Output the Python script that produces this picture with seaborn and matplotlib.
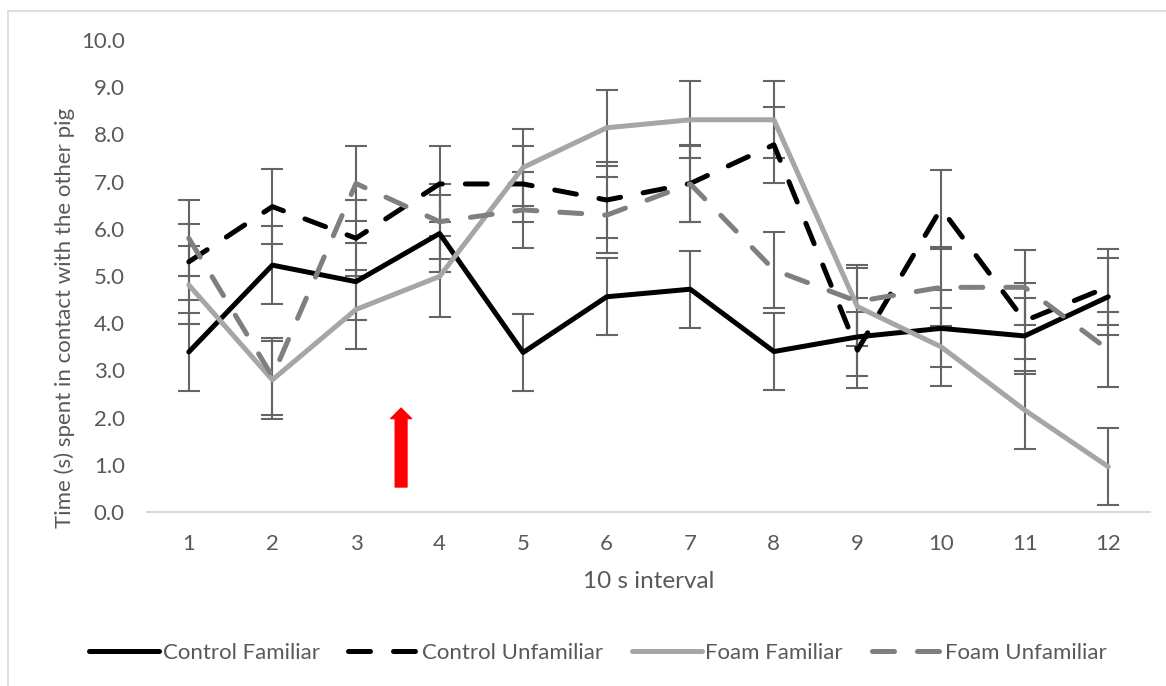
import numpy as np
import pandas as pd
import matplotlib
matplotlib.use('Agg')
import matplotlib.pyplot as plt
from matplotlib.lines import Line2D
import seaborn as sns

# ---- data ----
intervals = list(range(1, 13))
groups = ["Control Familiar", "Control Unfamiliar", "Foam Familiar", "Foam Unfamiliar"]

control_familiar = [3.39, 5.23, 4.88, 5.90, 3.38, 4.56, 4.72, 3.40, 3.71, 3.89, 3.73, 4.56]
control_unfamiliar = [5.30, 6.47, 5.80, 6.95, 6.95, 6.61, 6.96, 7.78, 3.43, 6.43, 4.05, 4.77]
foam_familiar = [4.81, 2.80, 4.29, 4.99, 7.30, 8.14, 8.31, 8.31, 4.35, 3.50, 2.16, 0.96]
foam_unfamiliar = [5.80, 2.87, 6.96, 6.15, 6.40, 6.29, 6.95, 5.13, 4.46, 4.76, 4.76, 3.44]

err_control_familiar = [0.82, 0.82, 0.82, 0.82, 0.81, 0.82, 0.82, 0.81, 0.82, 0.81, 0.80, 0.82]
err_control_unfamiliar = [0.81, 0.80, 0.80, 0.81, 0.81, 0.81, 0.81, 0.81, 0.81, 0.81, 0.80, 0.81]
err_foam_familiar = [0.83, 0.82, 0.83, 0.85, 0.82, 0.80, 0.82, 0.82, 0.83, 0.83, 0.82, 0.82]
err_foam_unfamiliar = [0.80, 0.82, 0.80, 0.80, 0.81, 0.81, 0.81, 0.81, 0.78, 0.81, 0.80, 0.80]

arrow_x = 3.54
arrow_y = (0.53, 2.2)

values = [control_familiar, control_unfamiliar, foam_familiar, foam_unfamiliar]
errors = [err_control_familiar, err_control_unfamiliar, err_foam_familiar, err_foam_unfamiliar]

df = pd.DataFrame({
    "interval": intervals * len(groups),
    "time": sum(values, []),
    "group": np.repeat(groups, len(intervals)),
})

palette = {"Control Familiar": "#000000", "Control Unfamiliar": "#000000",
           "Foam Familiar": "#A6A6A6", "Foam Unfamiliar": "#7F7F7F"}
dashes = {"Control Familiar": "", "Control Unfamiliar": (4.4, 4.6),
          "Foam Familiar": "", "Foam Unfamiliar": (4.4, 4.6)}

sns.set_theme(style="white")
plt.rcParams['font.family'] = ['Lato', 'DejaVu Sans']
plt.rcParams['lines.dash_capstyle'] = 'round'
plt.rcParams['lines.solid_capstyle'] = 'round'
text_color = "#595959"

fig = plt.figure(figsize=(11.66, 6.86), dpi=100)
W, H = 1166, 686
ax = fig.add_axes([147 / W, 1 - 512 / H, (1150 - 147) / W, (512 - 40) / H])

# error bars (grey, below the lines)
for vals, errs in zip(values, errors):
    ax.errorbar(intervals, vals, yerr=errs, fmt='none', ecolor="#656565",
                elinewidth=1.5, capsize=8, capthick=1.5, zorder=1)

sns.lineplot(data=df, x="interval", y="time", hue="group", style="group",
             hue_order=groups, style_order=groups, palette=palette, dashes=dashes,
             linewidth=3.6, ax=ax, zorder=2)

# red arrow marker
ax.annotate("", xy=(arrow_x, arrow_y[1]), xytext=(arrow_x, arrow_y[0]),
            arrowprops=dict(arrowstyle="simple,head_length=7.5,head_width=15,tail_width=8.5",
                            color="#FF0000", mutation_scale=1, shrinkA=0, shrinkB=0))

ax.set_xlim(0.5, 12.5)
ax.set_ylim(0, 10)
ax.set_xticks(intervals)
ax.set_yticks(np.arange(0, 11, 1))
ax.set_yticklabels([f"{v:.1f}" for v in range(0, 11)])
ax.tick_params(axis='both', length=0, labelsize=16, colors=text_color, pad=16)

for s in ["top", "right", "left"]:
    ax.spines[s].set_visible(False)
ax.spines["bottom"].set_color("#D9D9D9")
ax.spines["bottom"].set_linewidth(1.5)

ax.set_xlabel("10 s interval", fontsize=17.5, color=text_color, va='center')
ax.xaxis.set_label_coords(0.5, -(581 - 512) / 472)
ax.set_ylabel("Time (s) spent in contact with the other pig", fontsize=16,
              color=text_color, va='center')
ax.yaxis.set_label_coords((65 - 147) / 1003, (512 - 318) / 472)

sns.move_legend(ax, "center", bbox_to_anchor=(598 / W, 1 - 653 / H),
                bbox_transform=fig.transFigure, ncol=4, frameon=False, title=None,
                fontsize=16, handlelength=3.15, handletextpad=0.15, columnspacing=1.3,
                labelcolor=text_color)

# outer chart border (partially cropped in the reference)
fig.add_artist(Line2D([8 / W, 8 / W], [0, 1 - 11 / H], color="#D9D9D9", lw=1.2,
                      transform=fig.transFigure))
fig.add_artist(Line2D([8 / W, 1], [1 - 11 / H, 1 - 11 / H], color="#D9D9D9", lw=1.2,
                      transform=fig.transFigure))

fig.savefig("out.png", dpi=100, facecolor="white")
